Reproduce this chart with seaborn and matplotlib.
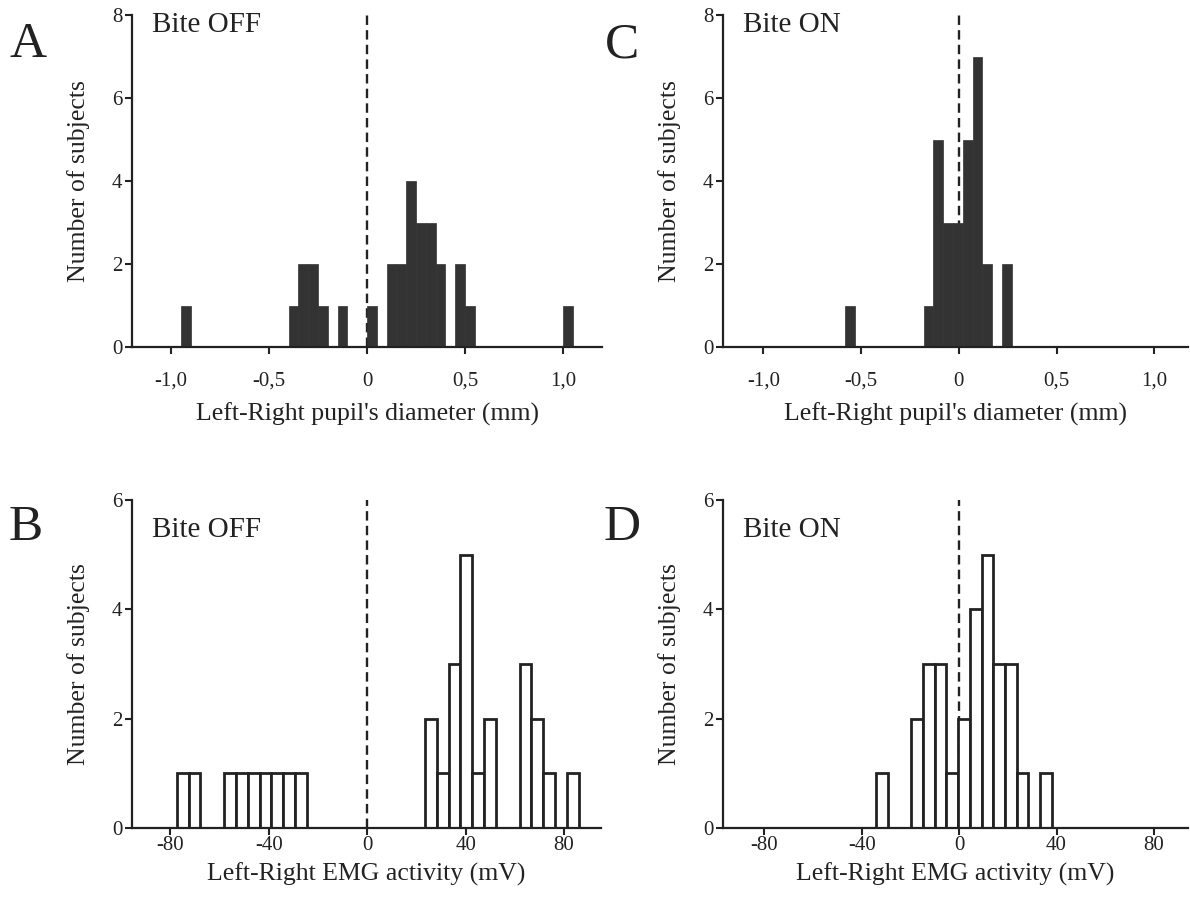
import numpy as np
import pandas as pd
import seaborn as sns
import matplotlib.pyplot as plt

# histogram bins (left edge of each non-empty bin, count)
pupil_width = 0.05
a_left = [-0.95, -0.40, -0.35, -0.30, -0.25, -0.15, 0.00, 0.10, 0.15, 0.20, 0.25, 0.30, 0.35, 0.45, 0.50, 1.00]
a_count = [1, 1, 2, 2, 1, 1, 1, 2, 2, 4, 3, 3, 2, 2, 1, 1]
c_left = [-0.58, -0.18, -0.13, -0.08, -0.03, 0.02, 0.07, 0.12, 0.22]
c_count = [1, 1, 5, 3, 3, 5, 7, 2, 2]

emg_width = 4.8
b_left = [-77.3, -72.5, -58.1, -53.3, -48.5, -43.7, -38.9, -34.1, -29.3,
          23.5, 28.3, 33.1, 37.9, 42.7, 47.5, 61.9, 66.7, 71.5, 81.1]
b_count = [1, 1, 1, 1, 1, 1, 1, 1, 1, 2, 1, 3, 5, 1, 2, 3, 2, 1, 1]
d_left = [-34.0, -19.6, -14.8, -10.0, -5.2, -0.4, 4.4, 9.2, 14.0, 18.8, 23.6, 33.2]
d_count = [1, 2, 3, 3, 1, 2, 4, 5, 3, 3, 1, 1]

pupil_ticks = [-1.0, -0.5, 0, 0.5, 1.0]
pupil_labels = ["-1,0", "-0,5", "0", "0,5", "1,0"]
emg_ticks = [-80, -40, 0, 40, 80]
emg_labels = ["-80", "-40", "0", "40", "80"]

sns.set_style("ticks")
plt.rcParams['font.family'] = ['Liberation Serif', 'DejaVu Serif']
plt.rcParams['axes.unicode_minus'] = False
ink = "#222222"

fig = plt.figure(figsize=(11.9, 9.05), dpi=100)
W, H = 1190, 905


def make_ax(l, r, t, b):
    return fig.add_axes([l / W, 1 - b / H, (r - l) / W, (b - t) / H])


panels = [
    ("A", make_ax(132, 602, 15, 347), a_left, a_count, pupil_width, (-1.2, 1.2), 8,
     "Bite OFF", pupil_ticks, pupil_labels, "Left-Right pupil's diameter (mm)", True),
    ("C", make_ax(723, 1188, 15, 347), c_left, c_count, pupil_width, (-1.206, 1.172), 8,
     "Bite ON", pupil_ticks, pupil_labels, "Left-Right pupil's diameter (mm)", True),
    ("B", make_ax(132, 601, 500, 828), b_left, b_count, emg_width, (-95.5, 95), 6,
     "Bite OFF", emg_ticks, emg_labels, "Left-Right EMG activity (mV)", False),
    ("D", make_ax(723, 1188, 500, 828), d_left, d_count, emg_width, (-97, 94), 6,
     "Bite ON", emg_ticks, emg_labels, "Left-Right EMG activity (mV)", False),
]

letter_pos = {"A": (28, 45), "C": (622, 45), "B": (26, 528), "D": (622, 528)}

for letter, ax, left, count, w, xlim, ymax, title, ticks, labels, xlab, solid in panels:
    df = pd.DataFrame({"x": np.array(left) + w / 2, "n": count})
    n_bins = int(round((max(left) - min(left)) / w)) + 1
    edges = [float(min(left) + i * w) for i in range(n_bins + 1)]
    if solid:
        sns.histplot(data=df, x="x", weights="n", bins=edges, ax=ax,
                     color="#333333", edgecolor="#333333", linewidth=0.5, alpha=1)
    else:
        sns.histplot(data=df, x="x", weights="n", bins=edges, ax=ax,
                     color="white", edgecolor=ink, linewidth=2, alpha=1)
    ax.axvline(0, color=ink, ls=(0, (4, 2.2)), lw=1.7, zorder=0.5)
    ax.set_xlim(*xlim)
    ax.set_ylim(0, ymax)
    ax.set_yticks(range(0, ymax + 1, 2))
    ax.set_xticks(ticks, labels)
    sns.despine(ax=ax)
    for s in ["left", "bottom"]:
        ax.spines[s].set_linewidth(1.6)
        ax.spines[s].set_color(ink)
    ax.tick_params(axis="y", direction="out", length=5, width=1.5, pad=2,
                   labelsize=15, colors=ink)
    ax.tick_params(axis="x", direction="out", length=5, width=1.5,
                   pad=13 if solid else 1, labelsize=15, colors=ink)
    ax.set_ylabel("Number of subjects", fontsize=18.5, color=ink, labelpad=16)
    ax.set_xlabel(xlab, fontsize=18.5, color=ink, labelpad=8 if solid else 5)
    ax.text(0.043, 0.97 if solid else 0.91, title, transform=ax.transAxes,
            fontsize=21, color=ink, va="center", ha="left")
    lx, ly = letter_pos[letter]
    fig.text(lx / W, 1 - ly / H, letter, fontsize=37, color=ink, ha="center", va="center")

fig.savefig("out.png", dpi=100)
